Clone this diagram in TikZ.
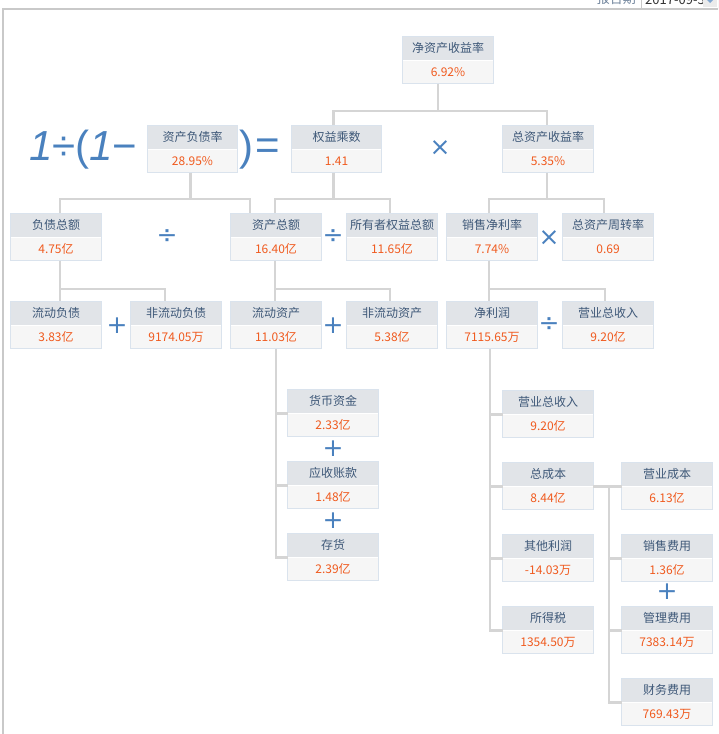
\documentclass[tikz,border=0pt]{standalone}
\usepackage{fontspec}
\setmainfont{Noto Sans CJK SC}
\newfontfamily\opfont{DejaVu Sans}
\newfontfamily\formulafont{Liberation Sans}
\usetikzlibrary{positioning}

\definecolor{hdrgray}{HTML}{E1E4E8}
\definecolor{valgray}{HTML}{F6F6F6}
\definecolor{boxedge}{HTML}{DAE3ED}
\definecolor{titleblue}{HTML}{3E5878}
\definecolor{valorange}{HTML}{F05A1E}
\definecolor{linkgray}{HTML}{D5D5D5}
\definecolor{opblue}{HTML}{4A81BE}
\definecolor{framegray}{HTML}{C9C9C9}

\tikzset{
  hdr/.style={anchor=north, minimum width=90pt, minimum height=24pt, inner sep=0pt,
    fill=hdrgray, text=titleblue, font=\fontsize{12}{14}\selectfont},
  val/.style={minimum width=90pt, minimum height=23pt, inner sep=0pt,
    fill=valgray, text=valorange, font=\fontsize{12}{14}\selectfont},
  link/.style={draw=linkgray, line width=2.2pt},
  op/.style={text=opblue, font=\opfont\fontsize{25}{25}\selectfont, inner sep=0pt},
  formula/.style={text=opblue, font=\formulafont\fontsize{42}{42}\selectfont, inner sep=0pt},
}

% name, center x, top y, title, value
\newcommand{\kpibox}[5]{%
  \node[hdr] (#1) at (#2,#3) {#4};
  \node[val, below=0pt of #1] (#1v) {#5};
  \draw[boxedge, line width=1pt] (#1.north west) rectangle (#1v.south east);
}

\begin{document}
\begin{tikzpicture}[x=1pt, y=-1pt]
  \useasboundingbox (0,0) rectangle (718,734);

  % page frame and report date (cut off at the top)
  \begin{scope}
    \clip (0,0) rectangle (718,734);
    \node[anchor=east, inner sep=0pt, text=titleblue!75, font=\fontsize{13}{13}\selectfont] (rptlabel) at (636,-1) {报告期};
    \draw[framegray, fill=white] (641,-20) rectangle (718,8);
    \node[anchor=west, inner sep=0pt, text=black!80, font=\fontsize{13}{13}\selectfont] (rptdate) at (645,0) {2017-09-30};
    \fill[black!8] (703,-20) rectangle (717,7);
    \fill[opblue!70] (707,0) -- (713,0) -- (710,3) -- cycle;
  \end{scope}
  \draw[framegray, line width=1.2pt] (718,9) -- (3,9) -- (3,734);

  % level 1
  \kpibox{roe}{448}{36}{净资产收益率}{6.92\%}

  % level 2
  \node[formula, anchor=west] (lhs) at (29,150) {\itshape 1\upshape÷(\itshape 1\upshape−};
  \kpibox{dr}{192.5}{125}{资产负债率}{28.95\%}
  \node[formula] (rpar) at (246,150) {)};
  \node[formula] (eq) at (268,149) {=};
  \kpibox{em}{336.5}{125}{权益乘数}{1.41}
  \node[op] (opx1) at (440,148) {×};
  \kpibox{roa}{548}{125}{总资产收益率}{5.35\%}

  % level 3
  \kpibox{debt}{56}{213}{负债总额}{4.75亿}
  \node[op] (opd1) at (167,237) {÷};
  \kpibox{assets}{276}{213}{资产总额}{16.40亿}
  \node[op] (opd2) at (333,237) {÷};
  \kpibox{equity}{392}{213}{所有者权益总额}{11.65亿}
  \kpibox{npm}{492}{213}{销售净利率}{7.74\%}
  \node[op] (opx2) at (549,238) {×};
  \kpibox{tat}{608}{213}{总资产周转率}{0.69}

  % level 4
  \kpibox{cl}{56}{301}{流动负债}{3.83亿}
  \node[op] (opp1) at (117,326) {+};
  \kpibox{ncl}{176}{301}{非流动负债}{9174.05万}
  \kpibox{ca}{276}{301}{流动资产}{11.03亿}
  \node[op] (opp2) at (333,326) {+};
  \kpibox{nca}{392}{301}{非流动资产}{5.38亿}
  \kpibox{np}{492}{301}{净利润}{7115.65万}
  \node[op] (opd3) at (549,325) {÷};
  \kpibox{rev}{608}{301}{营业总收入}{9.20亿}

  % current assets
  \kpibox{cash}{333}{389}{货币资金}{2.33亿}
  \node[op] (opp3) at (333,449) {+};
  \kpibox{ar}{333}{461}{应收账款}{1.48亿}
  \node[op] (opp4) at (333,521) {+};
  \kpibox{inv}{333}{533}{存货}{2.39亿}

  % net profit
  \kpibox{rev2}{548}{390}{营业总收入}{9.20亿}
  \kpibox{tc}{548}{462}{总成本}{8.44亿}
  \kpibox{op}{548}{534}{其他利润}{-14.03万}
  \kpibox{tax}{548}{606}{所得税}{1354.50万}

  % total cost
  \kpibox{cogs}{667}{462}{营业成本}{6.13亿}
  \kpibox{sell}{667}{534}{销售费用}{1.36亿}
  \node[op] (opp5) at (667,592) {+};
  \kpibox{admin}{667}{606}{管理费用}{7383.14万}
  \kpibox{fin}{667}{678}{财务费用}{769.43万}

  % connectors
  \draw[link] ([xshift=-10pt]roev.south) -- ++(0,27) coordinate (busa);
  \draw[link] ([xshift=-3pt]em.north) |- (busa) -| ([xshift=-1pt]roa.north);

  \draw[link] ([xshift=-2pt]drv.south) -- ++(0,26) coordinate (busb);
  \draw[link] ([xshift=4pt]debt.north) |- (busb) -| ([xshift=-26pt]assets.north);

  \draw[link] ([xshift=-3pt]emv.south) -- ++(0,26) coordinate (busc);
  \draw[link] ([xshift=-1pt]assets.north) |- (busc) -| ([xshift=-2pt]equity.north);

  \draw[link] ([xshift=-1pt]roav.south) -- ++(0,26) coordinate (busd);
  \draw[link] ([xshift=-3pt]npm.north) |- (busd) -| ([xshift=-4pt]tat.north);

  \draw[link] ([xshift=4pt]debtv.south) -- ([xshift=4pt]cl.north);
  \draw[link] ([xshift=4pt]debtv.south) ++(0,28) -| ([xshift=-11pt]ncl.north);

  \draw[link] ([xshift=-1pt]assetsv.south) -- ([xshift=-1pt]ca.north);
  \draw[link] ([xshift=-1pt]assetsv.south) ++(0,28) -| ([xshift=-2pt]nca.north);

  \draw[link] ([xshift=-3pt]npmv.south) -- ([xshift=-3pt]np.north);
  \draw[link] ([xshift=-3pt]npmv.south) ++(0,28) -| ([xshift=-3pt]rev.north);

  \draw[link] (cav.south) |- (inv.south west);
  \foreach \n in {cash, ar}
    \draw[link] (\n.south west) -- (\n.south west -| cav.south);

  \draw[link] ([xshift=-2pt]npv.south) |- (tax.south west);
  \foreach \n in {rev2, tc, op}
    \draw[link] (\n.south west) -- ++(-13,0);

  \draw[link] (tc.south east) -- (cogs.south west);
  \draw[link] (tc.south east) ++(16,0) |- (fin.south west);
  \foreach \n in {sell, admin}
    \draw[link] (\n.south west) -- ++(-13,0);
\end{tikzpicture}
\end{document}
